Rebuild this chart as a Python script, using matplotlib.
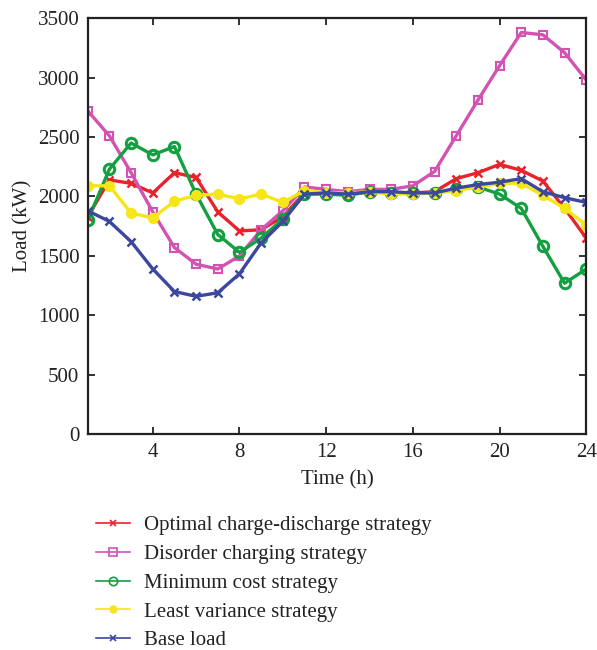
import numpy as np
import matplotlib
matplotlib.use("Agg")
import matplotlib.pyplot as plt

plt.rcParams['font.family'] = ['Liberation Serif', 'DejaVu Serif']

hours = list(range(1, 25))

optimal = [1830, 2140, 2110, 2030, 2200, 2160, 1870, 1710, 1720, 1830, 2030, 2030,
           2020, 2040, 2030, 2030, 2040, 2150, 2200, 2270, 2220, 2130, 1900, 1650]
disorder = [2720, 2510, 2200, 1870, 1570, 1430, 1390, 1500, 1720, 1880, 2080, 2060,
            2040, 2060, 2060, 2090, 2210, 2510, 2810, 3100, 3380, 3360, 3210, 2980]
min_cost = [1800, 2230, 2450, 2350, 2420, 2020, 1680, 1530, 1650, 1810, 2020, 2020,
            2010, 2040, 2030, 2030, 2030, 2060, 2080, 2020, 1900, 1580, 1270, 1390]
least_var = [2090, 2090, 1860, 1820, 1960, 2010, 2020, 1980, 2020, 1950, 2050, 2030,
             2030, 2040, 2020, 2020, 2030, 2050, 2080, 2110, 2110, 2010, 1900, 1760]
base = [1880, 1790, 1620, 1390, 1200, 1160, 1190, 1350, 1610, 1790, 2020, 2030,
        2020, 2040, 2040, 2030, 2030, 2070, 2100, 2120, 2150, 2040, 1990, 1950]

labels = ['Optimal charge-discharge strategy', 'Disorder charging strategy',
          'Minimum cost strategy', 'Least variance strategy', 'Base load']

fig = plt.figure(figsize=(5.97, 6.5), dpi=100)
ax = fig.add_axes([0.147, 0.332, 0.835, 0.64])

lw = 2.4
ax.plot(hours, optimal, color='#e8232b', lw=lw, marker='x', ms=6, mew=1.8)
ax.plot(hours, disorder, color='#d253b2', lw=lw, marker='s', ms=6, mew=1.5, mfc='none')
ax.plot(hours, min_cost, color='#12a040', lw=lw, marker='o', ms=7.5, mew=2.2, mfc='none')
ax.plot(hours, least_var, color='#f6e616', lw=lw, marker='o', ms=7)
ax.plot(hours, base, color='#3c479e', lw=lw, marker='x', ms=6, mew=1.8)

ax.set_xlim(1, 24)
ax.set_ylim(0, 3500)
ax.set_xticks([4, 8, 12, 16, 20, 24])
ax.set_yticks(np.arange(0, 3501, 500))
ax.tick_params(direction='in', top=True, right=True, labelsize=15, length=5, width=1.3,
               colors='#222222', pad=6)
for s in ax.spines.values():
    s.set_linewidth(1.6)
    s.set_color('#222222')
ax.set_xlabel('Time (h)', fontsize=15, color='#222222', labelpad=6)
ax.set_ylabel('Load (kW)', fontsize=15, color='#222222', labelpad=4)

# legend handles: thin lines with small markers
handles = [
    plt.Line2D([], [], color='#e8232b', lw=1.2, marker='x', ms=5, mew=1.2),
    plt.Line2D([], [], color='#d253b2', lw=1.2, marker='s', ms=6, mew=1.2, mfc='none'),
    plt.Line2D([], [], color='#12a040', lw=1.2, marker='o', ms=6, mew=1.2, mfc='none'),
    plt.Line2D([], [], color='#f6e616', lw=1.2, marker='o', ms=5),
    plt.Line2D([], [], color='#3c479e', lw=1.2, marker='x', ms=5, mew=1.2),
]
fig.legend(handles, labels, loc='upper left', bbox_to_anchor=(0.137, 0.229),
           frameon=False, fontsize=15, handlelength=1.6, labelspacing=0.44,
           handletextpad=0.7, labelcolor='#222222', borderpad=0.2)

fig.savefig('out.png', dpi=100)
